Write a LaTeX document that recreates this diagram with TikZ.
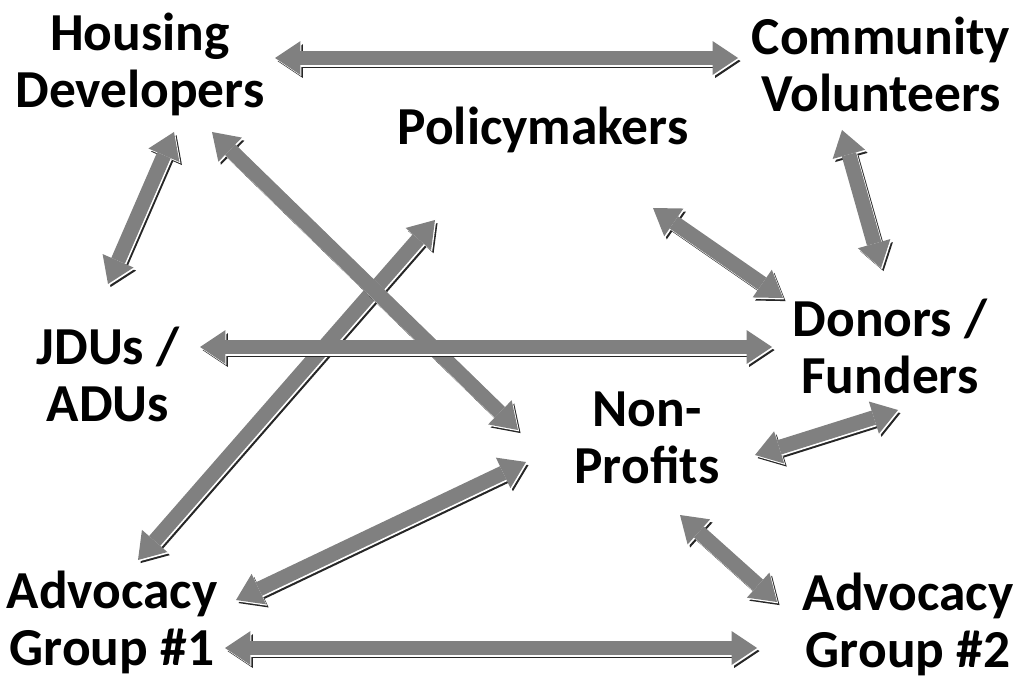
\documentclass[tikz,border=0pt]{standalone}
\usepackage{fontspec}
\setmainfont{Carlito}
\usetikzlibrary{arrows.meta}
\newcommand*{\shaft}{10.5pt}
\newcommand*{\headw}{24pt}
\newcommand*{\headl}{18pt}
\tikzset{
    actor/.style = {align=center, inner sep=0pt, font=\fontsize{38}{40.5}\selectfont\bfseries},
    twoway/.style = {line width=\shaft,
        {Triangle[length=\headl, width=\headw, line width=0pt]}-{Triangle[length=\headl, width=\headw, line width=0pt]}},
}
% shadow, gap, then the grey body on top
\newcommand*{\biarrow}[2]{%
    \draw [twoway, draw=black!85, transform canvas={xshift=1.8pt, yshift=-2.2pt}] (#1) -- (#2);
    \draw [twoway, draw=white,    transform canvas={xshift=0.8pt, yshift=-1pt}]   (#1) -- (#2);
    \draw [twoway, draw=black!50] (#1) -- (#2);
}

\begin{document}
\begin{tikzpicture}[x=0.025cm, y=-0.025cm]
    \useasboundingbox (0,0) rectangle (1016,682);

    \node [actor] (housing)   at (140,64)  {Housing\\Developers};
    \node [actor] (community) at (881,64)  {Community\\Volunteers};
    \node [actor] (policy)    at (543,130) {Policymakers};
    \node [actor] (jdus)      at (108,374) {JDUs /\\ADUs};
    \node [actor] (donors)    at (890,346) {Donors /\\Funders};
    \node [actor] (nonprofit) at (647,438) {Non-\\Profits};
    \node [actor] (advone)    at (112,622) {Advocacy\\Group \#1};
    \node [actor] (advtwo)    at (908,624) {Advocacy\\Group \#2};

    \coordinate (hd-cv-a) at (275,58);  \coordinate (hd-cv-b) at (738,58);
    \coordinate (hd-jd-a) at (174,132); \coordinate (hd-jd-b) at (108,284);
    \coordinate (hd-np-a) at (212,132); \coordinate (hd-np-b) at (518,430);
    \coordinate (cv-dn-a) at (842,130); \coordinate (cv-dn-b) at (881,268);
    \coordinate (pm-dn-a) at (653,208); \coordinate (pm-dn-b) at (783,298);
    \coordinate (jd-dn-a) at (200,347); \coordinate (jd-dn-b) at (772,347);
    \coordinate (a1-pm-a) at (138,560); \coordinate (a1-pm-b) at (435,220);
    \coordinate (a1-np-a) at (236,600); \coordinate (a1-np-b) at (526,462);
    \coordinate (np-dn-a) at (755,455); \coordinate (np-dn-b) at (898,410);
    \coordinate (np-a2-a) at (680,515); \coordinate (np-a2-b) at (777,602);
    \coordinate (a1-a2-a) at (225,648); \coordinate (a1-a2-b) at (757,648);

    \biarrow{hd-cv-a}{hd-cv-b}
    \biarrow{hd-jd-a}{hd-jd-b}
    \biarrow{a1-pm-a}{a1-pm-b}
    \biarrow{hd-np-a}{hd-np-b}
    \biarrow{cv-dn-a}{cv-dn-b}
    \biarrow{pm-dn-a}{pm-dn-b}
    \biarrow{jd-dn-a}{jd-dn-b}
    \biarrow{a1-np-a}{a1-np-b}
    \biarrow{np-dn-a}{np-dn-b}
    \biarrow{np-a2-a}{np-a2-b}
    \biarrow{a1-a2-a}{a1-a2-b}
\end{tikzpicture}
\end{document}
